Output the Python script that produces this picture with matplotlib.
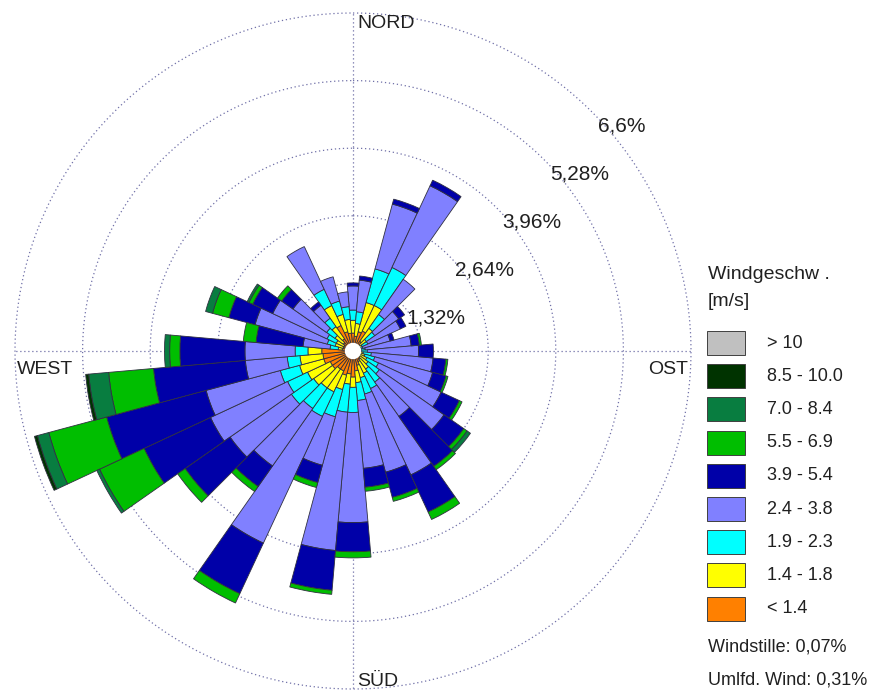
import numpy as np
import matplotlib
matplotlib.use("Agg")
import matplotlib.pyplot as plt
from matplotlib.patches import Rectangle

plt.rcParams['font.family'] = ['Liberation Sans', 'DejaVu Sans']

# ---------------- Data: frequency [%] per 10° sector ----------------
directions = np.arange(0, 360, 10)

s_lt14 = [0.35, 0.29, 0.39, 0.43, 0.23, 0.16, 0.10, 0.06, 0.08, 0.08, 0.10, 0.12,
          0.14, 0.16, 0.20, 0.23, 0.29, 0.39, 0.51, 0.45, 0.49, 0.43, 0.43, 0.49,
          0.49, 0.59, 0.59, 0.61, 0.21, 0.20, 0.20, 0.23, 0.29, 0.55, 0.39, 0.35]
s_14_18 = [0.25, 0.25, 0.59, 0.55, 0.31, 0.16, 0.10, 0.06, 0.08, 0.08, 0.10, 0.12,
           0.16, 0.20, 0.23, 0.25, 0.25, 0.23, 0.20, 0.20, 0.29, 0.45, 0.45, 0.45,
           0.49, 0.49, 0.45, 0.27, 0.08, 0.16, 0.16, 0.20, 0.29, 0.43, 0.35, 0.27]
s_19_23 = [0.20, 0.23, 0.68, 0.82, 0.33, 0.20, 0.12, 0.08, 0.08, 0.12, 0.16, 0.20,
           0.25, 0.27, 0.31, 0.33, 0.33, 0.35, 0.49, 0.55, 0.55, 0.53, 0.49, 0.53,
           0.43, 0.39, 0.25, 0.25, 0.16, 0.16, 0.20, 0.20, 0.20, 0.35, 0.27, 0.25]
s_24_38 = [0.47, 0.62, 1.31, 1.76, 0.84, 0.57, 0.70, 0.55, 0.90, 1.00, 1.21, 1.17,
           1.35, 1.54, 0.82, 1.86, 1.58, 1.33, 2.15, 2.71, 0.98, 2.73, 1.37, 1.46,
           1.66, 1.50, 0.82, 0.98, 0.53, 1.46, 1.17, 0.80, 0.31, 0.92, 0.49, 0.29]
s_39_54 = [0.06, 0.08, 0.10, 0.12, 0.00, 0.14, 0.12, 0.08, 0.16, 0.29, 0.25, 0.27,
           0.39, 0.47, 1.19, 0.80, 0.51, 0.37, 0.57, 0.78, 0.35, 1.09, 0.49, 1.07,
           1.43, 2.01, 1.80, 1.27, 0.92, 0.53, 0.43, 0.27, 0.08, 0.00, 0.00, 0.00]
s_55_69 = [0.00, 0.00, 0.00, 0.00, 0.00, 0.00, 0.00, 0.00, 0.04, 0.00, 0.04, 0.04,
           0.06, 0.08, 0.08, 0.16, 0.08, 0.08, 0.12, 0.08, 0.10, 0.20, 0.12, 0.18,
           0.96, 1.17, 0.88, 0.20, 0.25, 0.33, 0.08, 0.10, 0.00, 0.00, 0.00, 0.00]
s_70_84 = [0.00, 0.00, 0.00, 0.00, 0.00, 0.00, 0.00, 0.00, 0.00, 0.00, 0.00, 0.00,
           0.00, 0.08, 0.00, 0.00, 0.00, 0.00, 0.00, 0.00, 0.00, 0.00, 0.00, 0.00,
           0.06, 0.23, 0.39, 0.10, 0.00, 0.14, 0.04, 0.00, 0.00, 0.00, 0.00, 0.00]
s_85_100 = [0.00] * 25 + [0.06, 0.06] + [0.00] * 9
s_gt10 = [0.00] * 36

classes = [s_lt14, s_14_18, s_19_23, s_24_38, s_39_54, s_55_69, s_70_84, s_85_100, s_gt10]
class_colors = ['#FF8000', '#FFFF00', '#00FFFF', '#8080FF', '#0000A8',
                '#00BE00', '#087D40', '#003300', '#C0C0C0']
class_labels = ['< 1.4', '1.4 - 1.8', '1.9 - 2.3', '2.4 - 3.8', '3.9 - 5.4',
                '5.5 - 6.9', '7.0 - 8.4', '8.5 - 10.0', '> 10']

ring_values = [1.32, 2.64, 3.96, 5.28, 6.6]
ring_labels = ['1,32%', '2,64%', '3,96%', '5,28%', '6,6%']

# ---------------- Figure ----------------
W, H = 878, 695
cx, cy, R = 353, 351, 338
fig = plt.figure(figsize=(W / 100, H / 100), dpi=100)
ax = fig.add_axes([(cx - R) / W, (H - cy - R) / H, 2 * R / W, 2 * R / H],
                  projection='polar')
ax.set_theta_zero_location('N')
ax.set_theta_direction(-1)
ax.set_ylim(0, 6.6)
ax.set_axis_off()

grid_kw = dict(color='#7070a8', lw=0.9, ls=(0, (1, 2.2)), zorder=1, clip_on=False)
t = np.linspace(0, 2 * np.pi, 500)
for r in ring_values:
    ax.plot(t, np.full_like(t, r), **grid_kw)
for a in [0, 90, 180, 270]:
    ax.plot([np.deg2rad(a)] * 2, [0, 6.6], **grid_kw)

# stacked sectors
theta = np.deg2rad(directions)
bottom = np.zeros(len(directions))
for vals, col in zip(classes, class_colors):
    vals = np.array(vals)
    m = vals > 0
    if m.any():
        ax.bar(theta[m], vals[m], width=np.deg2rad(10), bottom=bottom[m],
               color=col, edgecolor='#303040', linewidth=0.6, zorder=2)
    bottom += vals

# white calm circle in the middle
ax.bar(0, 0.16, width=2 * np.pi, bottom=0, color='white', zorder=3)

for v, lab in zip(ring_values, ring_labels):
    ax.annotate(lab, xy=(np.deg2rad(45), v), xytext=(6, -5),
                textcoords='offset pixels', ha='left', va='top',
                fontsize=15, color='#202020', annotation_clip=False, zorder=4)

# compass labels
def px(x, y):
    return x / W, 1 - y / H

fig.text(*px(357, 24), 'NORD', ha='left', va='center', fontsize=14, color='#202020')
fig.text(*px(357, 681), 'SÜD', ha='left', va='center', fontsize=14, color='#202020')
fig.text(*px(17, 370), 'WEST', ha='left', va='center', fontsize=14, color='#202020')
fig.text(*px(688, 370), 'OST', ha='right', va='center', fontsize=14, color='#202020')

# ---------------- Legend ----------------
fig.text(*px(708, 274), 'Windgeschw .', ha='left', va='center', fontsize=14, color='#202020')
fig.text(*px(708, 302), '[m/s]', ha='left', va='center', fontsize=14, color='#202020')
for i, (lab, col) in enumerate(zip(class_labels[::-1], class_colors[::-1])):
    yc = 343 + i * 33.2
    fig.add_artist(Rectangle(px(707, yc + 12), 38 / W, 24 / H,
                             transform=fig.transFigure, facecolor=col,
                             edgecolor='#404040', linewidth=0.7))
    fig.text(*px(767, yc), lab, ha='left', va='center', fontsize=13, color='#202020')

fig.text(*px(708, 647), 'Windstille: 0,07%', ha='left', va='center', fontsize=13, color='#202020')
fig.text(*px(708, 680), 'Umlfd. Wind: 0,31%', ha='left', va='center', fontsize=13, color='#202020')

fig.savefig('out.png', dpi=100)
